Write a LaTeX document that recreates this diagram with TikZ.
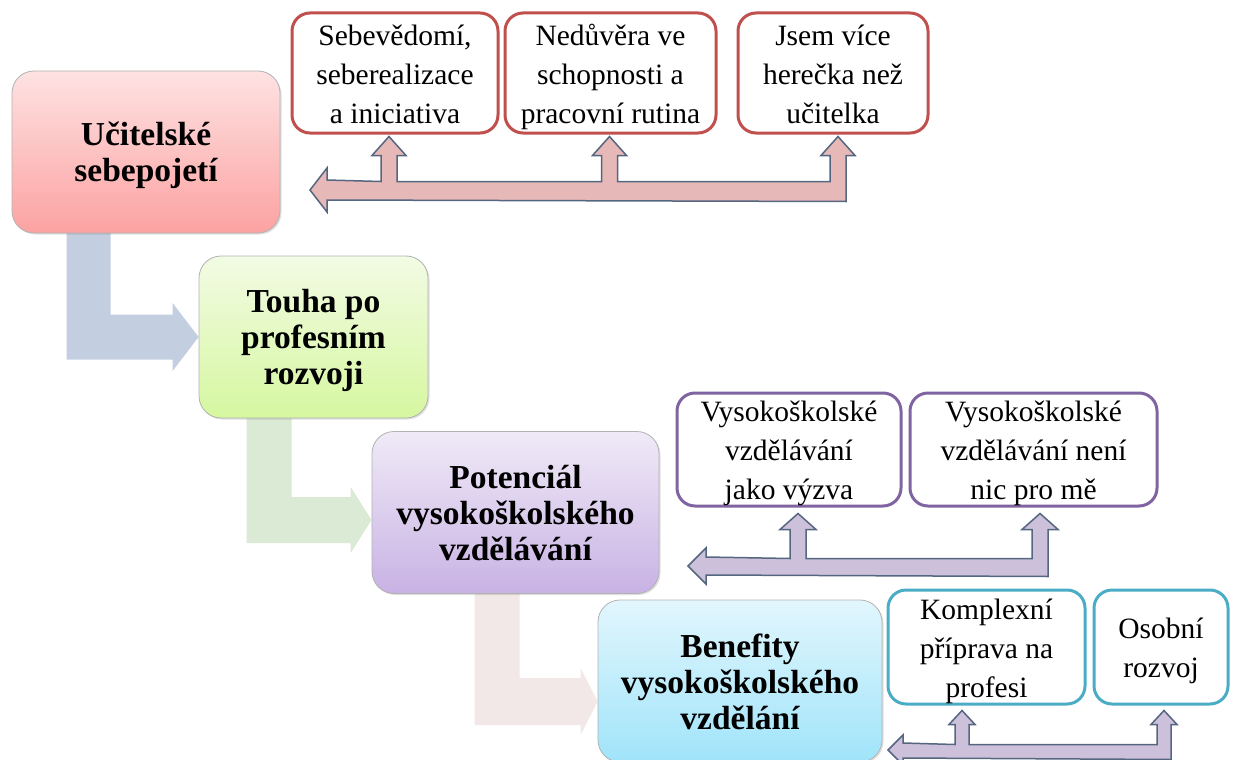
\documentclass[tikz,border=0pt]{standalone}
\usepackage{fontspec}
\setmainfont{Liberation Serif}
\usetikzlibrary{calc,backgrounds,shadows}

\definecolor{redtop}{RGB}{254,226,226}
\definecolor{redbot}{RGB}{252,162,162}
\definecolor{greentop}{RGB}{242,251,228}
\definecolor{greenbot}{RGB}{214,247,160}
\definecolor{lilactop}{RGB}{240,234,247}
\definecolor{lilacbot}{RGB}{200,178,228}
\definecolor{cyantop}{RGB}{226,246,253}
\definecolor{cyanbot}{RGB}{160,228,250}
\definecolor{edgered}{RGB}{192,80,77}
\definecolor{edgepurple}{RGB}{128,100,162}
\definecolor{edgeaqua}{RGB}{75,172,198}
\definecolor{fillrose}{RGB}{230,184,183}
\definecolor{filllilac}{RGB}{204,192,218}
\definecolor{arrowline}{RGB}{85,102,128}
\definecolor{bendblue}{RGB}{196,206,225}
\definecolor{bendgreen}{RGB}{218,234,212}
\definecolor{bendrose}{RGB}{242,232,232}

\tikzset{
    mainbox/.style={rounded corners=22pt, draw=black!30, line width=0.8pt,
        minimum width=#1, text width=#1-10pt, minimum height=162pt,
        inner sep=0pt, align=flush center,
        font=\bfseries\fontsize{33.5}{36}\selectfont,
        execute at begin node=\rule{0pt}{31pt},
        execute at end node=\rule[-7pt]{0pt}{7pt},
        drop shadow={opacity=0.25, shadow xshift=1.5pt, shadow yshift=-1.5pt}},
    subbox/.style={rounded corners=18pt, line width=3pt, fill=white,
        minimum width=#1, text width=#1-12pt,
        inner sep=0pt, align=flush center, font=\fontsize{29.5}{39}\selectfont,
        execute at begin node=\rule{0pt}{28.5pt},
        execute at end node=\rule[-5.5pt]{0pt}{5.5pt}},
    rowarrow/.style={draw=arrowline, line width=1.5pt, line join=miter}
}

\begin{document}
\begin{tikzpicture}[x=1pt, y=-1pt]
    \useasboundingbox (0,0) rectangle (1234,760);

    % main boxes
    \node[mainbox=268pt, top color=redtop, bottom color=redbot] (t1) at (146,152) {Učitelské\\sebepojetí};
    \node[mainbox=229pt, top color=greentop, bottom color=greenbot] (t2) at (313.5,337) {Touha po\\profesním\\rozvoji};
    \node[mainbox=287pt, top color=lilactop, bottom color=lilacbot] (t3) at (515.5,512.5) {Potenciál\\vysokoškolského\\vzdělávání};
    \node[mainbox=284pt, top color=cyantop, bottom color=cyanbot] (t4) at (740,681) {Benefity\\vysokoškolského\\vzdělání};

    % side boxes
    \node[subbox=206pt, draw=edgered, minimum height=120pt] (sA) at (395,73) {Sebevědomí,\\seberealizace\\a iniciativa};
    \node[subbox=211pt, draw=edgered, minimum height=120pt] (sB) at (610.5,73) {Nedůvěra ve\\schopnosti a\\pracovní rutina};
    \node[subbox=190pt, draw=edgered, minimum height=120pt] (sC) at (833,73) {Jsem více\\herečka než\\učitelka};
    \node[subbox=224pt, draw=edgepurple, minimum height=113pt] (sD) at (789,449.5) {Vysokoškolské\\vzdělávání\\jako výzva};
    \node[subbox=247pt, draw=edgepurple, minimum height=113pt] (sE) at (1033.5,449.5) {Vysokoškolské\\vzdělávání není\\nic pro mě};
    \node[subbox=197pt, draw=edgeaqua, minimum height=114pt] (sF) at (986.5,647) {Komplexní\\příprava na\\profesi};
    \node[subbox=134pt, draw=edgeaqua, minimum height=114pt] (sG) at (1161,647) {Osobní\\rozvoj};

    \coordinate (r1) at (310,190);
    \coordinate (r2) at (688,566);
    \coordinate (r3) at (888,750);

    % branch arrows
    \draw[rowarrow, fill=fillrose] (r1) -- ++(17,-22) -- ++(0,12)
        foreach \n/\d in {sA/-6, sB/-1} {
            -- ($(\n.south)+(\d-8,47)$) -- ++(0,-26) -- ++(-9,0) -- ++(17,-19)
            -- ++(17,19) -- ++(-9,0) -- ++(0,26) }
        -- ($(sC.south)+(-3,47)$) -- ++(0,-26) -- ++(-9,0) -- ++(17,-19)
        -- ++(17,19) -- ++(-9,0) -- ++(0,46) -- ($(r1)+(17,10)$) -- ++(0,12) -- cycle;
    \draw[rowarrow, fill=filllilac] (r2) -- ++(18,-18) -- ++(0,9)
        -- ($(sD.south)+(1,51)$) -- ++(0,-29) -- ++(-10,0) -- ++(18,-16)
        -- ++(18,16) -- ++(-10,0) -- ++(0,29)
        -- ($(sE.south)+(-1.5,51)$) -- ++(0,-29) -- ++(-10,0) -- ++(18,-16)
        -- ++(18,16) -- ++(-10,0) -- ++(0,47) -- ($(r2)+(18,9)$) -- ++(0,9) -- cycle;
    \draw[rowarrow, fill=filllilac] (r3) -- ++(15,-15) -- ++(0,8)
        -- ($(sF.south)+(-31.5,39)$) -- ++(0,-20) -- ++(-6,0) -- ++(13,-14)
        -- ++(13,14) -- ++(-6,0) -- ++(0,20)
        -- ($(sG.south)+(-4,39)$) -- ++(0,-20) -- ++(-6,0) -- ++(13,-14)
        -- ++(13,14) -- ++(-6,0) -- ++(0,35) -- ($(r3)+(15,8)$) -- ++(0,7) -- cycle;

    % bent arrows between the main boxes
    \begin{scope}[on background layer]
        \fill[bendblue] let \p1=(t1.south west), \p2=(t2.west) in
            (\x1+55pt,\y1+20pt) -- (\x1+55pt,\y2-22.5pt) -- (\x2-26pt,\y2-22.5pt) -- (\x2-26pt,\y2-34pt)
            -- (\p2) -- (\x2-26pt,\y2+34pt) -- (\x2-26pt,\y2+22.5pt) -- (\x1+99pt,\y2+22.5pt)
            -- (\x1+99pt,\y1+20pt) -- cycle;
        \fill[bendgreen] let \p1=(t2.south west), \p2=($(t3.west)+(0,7.5)$) in
            (\x1+48pt,\y1+20pt) -- (\x1+48pt,\y2-23pt) -- (\x2-21pt,\y2-23pt) -- (\x2-21pt,\y2-33pt)
            -- (\p2) -- (\x2-21pt,\y2+33pt) -- (\x2-21pt,\y2+23pt) -- (\x1+93pt,\y2+23pt)
            -- (\x1+93pt,\y1+20pt) -- cycle;
        \fill[bendrose] let \p1=(t3.south west), \p2=($(t4.west)+(0,20.5)$) in
            (\x1+103pt,\y1+20pt) -- (\x1+103pt,\y2-23.5pt) -- (\x2-17pt,\y2-23.5pt) -- (\x2-17pt,\y2-33.5pt)
            -- (\p2) -- (\x2-17pt,\y2+33.5pt) -- (\x2-17pt,\y2+23.5pt) -- (\x1+148pt,\y2+23.5pt)
            -- (\x1+148pt,\y1+20pt) -- cycle;
    \end{scope}
\end{tikzpicture}
\end{document}
